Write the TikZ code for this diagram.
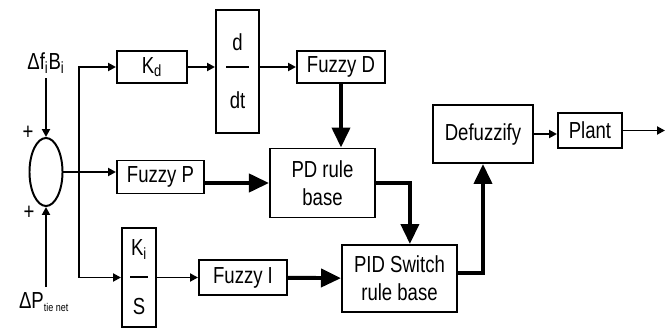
\documentclass[tikz,border=0pt]{standalone}
\usepackage{fontspec}
\setmainfont[FakeStretch=0.8]{Liberation Sans}
\usetikzlibrary{arrows.meta, positioning, calc, shapes.geometric}

\begin{document}
\begin{tikzpicture}[
    x=0.025cm, y=-0.025cm, % one unit per pixel, y downwards
    font=\fontsize{16.5}{20}\selectfont,
    blk/.style={draw, line width=1.4pt, inner sep=2pt, align=center},
    arr/.style={-{Triangle[length=0.2cm, width=0.2cm]}, line width=1.4pt},
    fat/.style={-{Triangle[length=0.5cm, width=0.45cm]}, line width=2.8pt}
]
\useasboundingbox (0,0) rectangle (672,329);

% Summing junction
\node[ellipse, draw, line width=1.4pt, minimum width=0.825cm, minimum height=1.7cm] (sum) at (46,172) {};
\node (dfb) at (46,63) {Δf\textsubscript{i}B\textsubscript{i}};
\node (dp) at (44,302) {ΔP\textsubscript{\fontsize{8}{8}\selectfont tie net}};
\node (plus1) at (28,133) {+};
\node (plus2) at (29,213) {+};

% Derivative path
\node[blk, minimum width=1.75cm, minimum height=0.8cm] (kd) at (152,67) {K\textsubscript{d}};
\node[blk, minimum width=1.075cm, minimum height=3.075cm] (ddt) at (237.5,71.5) {d\\[-7.5pt]\rule{0.55cm}{1.4pt}\\[9pt]dt};
\node[blk, minimum width=2.2cm, minimum height=0.8cm] (fzd) at (341,67) {Fuzzy D};

% Proportional path
\node[blk, minimum width=2.175cm, minimum height=0.825cm] (fzp) at (160.5,177) {Fuzzy P};
\node[blk, minimum width=2.625cm, minimum height=1.725cm] (pd) at (322.5,183) {PD rule\\base};

% Integral path
\node[blk, minimum width=0.85cm, minimum height=2.475cm] (kis) at (139,277.5) {K\textsubscript{i}\\[-4.5pt]\rule{0.43cm}{1.4pt}\\[6.5pt]S};
\node[blk, minimum width=2.2cm, minimum height=0.875cm] (fzi) at (243,277.5) {Fuzzy I};
\node[blk, minimum width=2.875cm, minimum height=1.675cm] (pid) at (399.5,278.5) {PID Switch\\rule base};

% Output stage
\node[blk, minimum width=2.5cm, minimum height=1.45cm] (defz) at (483,134) {Defuzzify};
\node[blk, minimum width=1.6cm, minimum height=0.875cm] (plant) at (590,130.5) {Plant};
\coordinate (out) at (665,130.5);
\coordinate (br) at (79,172);

% Arrows
\draw[arr] (dfb) -- (sum.north);
\draw[arr] (dp.north -| sum.south) -- (sum.south);
\draw[arr] (sum.east) -- (sum.east -| fzp.west);
\draw[arr] (br) |- (kd);
\draw[arr] (br) |- (kis);
\draw[arr] (kd) -- (kd -| ddt.west);
\draw[arr] (ddt.east |- fzd) -- (fzd);
\draw[arr] (kis) -- (fzi);
\draw[arr] (defz.east) -- (defz.east -| plant.west);
\draw[arr] (plant) -- (out);

% Rule base connections
\draw[fat] (fzd.south) -- (fzd.south |- pd.north);
\draw[fat] (fzp.east |- pd) -- (pd.west);
\draw[fat] (pd.east) -| ([xshift=0.26cm]pid.north);
\draw[fat] (fzi) -- (pid);
\draw[fat] ([yshift=0.14cm]pid.east) -| (defz.south);

\end{tikzpicture}
\end{document}
